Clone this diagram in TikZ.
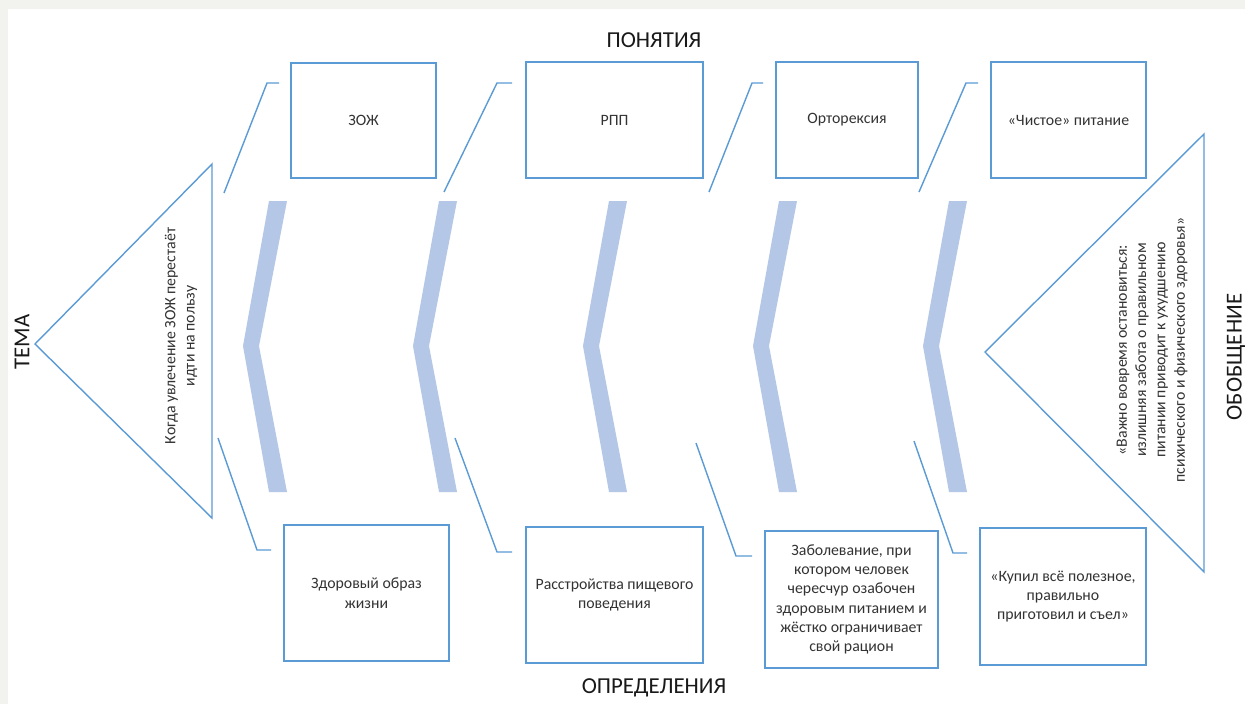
\documentclass[tikz,border=0pt]{standalone}
\usepackage{fontspec}
\setmainfont{Carlito}
\definecolor{lineblue}{HTML}{5B9BD5}
\definecolor{ribblue}{HTML}{B4C7E7}
\definecolor{pagegray}{HTML}{F2F3EE}
\tikzstyle{card} = [rectangle, draw=lineblue, line width=1.1pt, align=center, text=black!80, font=\fontsize{9}{11}\selectfont]
\tikzstyle{bone} = [draw=lineblue, line width=0.8pt]
\tikzstyle{rib} = [fill=ribblue]
\tikzstyle{heading} = [text=black!90, font=\fontsize{13}{15}\selectfont]
\tikzstyle{note} = [align=center, text=black!80, font=\fontsize{9}{11}\selectfont]

\begin{document}
\begin{tikzpicture}[x=0.02cm, y=-0.02cm]
    % Page
    \useasboundingbox (0,0) rectangle (1245,704);
    \fill [pagegray] (0,0) rectangle (1245,704);
    \fill [white] (8,9) rectangle (1245,704);

    % Head and tail
    \draw [bone] (35,344) -- (212,164) -- (212,518) -- cycle;
    \draw [bone] (985,352) -- (1204,134) -- (1204,572) -- cycle;
    \node (topic) at (181,336) [note, rotate=90] {Когда увлечение ЗОЖ перестаёт\\идти на пользу};
    \node (summary) at (1152,350) [note, rotate=90] {«Важно вовремя остановиться:\\излишняя забота о правильном\\питании приводит к ухудшению\\психического и физического здоровья»};
    \node (topiclabel) at (22,342) [heading, rotate=90] {ТЕМА};
    \node (summarylabel) at (1236,357) [heading, rotate=90] {ОБОБЩЕНИЕ};

    % Ribs
    \fill [rib] (269,201) -- (287,201) -- (259,346) -- (287,492) -- (269,492) -- (243,346) -- cycle;
    \fill [rib] (439,201) -- (457,201) -- (429,346) -- (457,492) -- (439,492) -- (413,346) -- cycle;
    \fill [rib] (609,201) -- (627,201) -- (599,346) -- (627,492) -- (609,492) -- (583,346) -- cycle;
    \fill [rib] (779,201) -- (797,201) -- (769,346) -- (797,492) -- (779,492) -- (753,346) -- cycle;
    \fill [rib] (949,201) -- (967,201) -- (939,346) -- (967,492) -- (949,492) -- (923,346) -- cycle;

    % Concepts
    \node (heading) at (654,40) [heading] {ПОНЯТИЯ};
    \node (zoj) at (363.5,120.5) [card, minimum width=2.9cm, minimum height=2.3cm] {ЗОЖ};
    \node (rpp) at (614.5,120) [card, minimum width=3.54cm, minimum height=2.32cm] {РПП};
    \node (orto) at (847,120) [card, minimum width=2.84cm, minimum height=2.32cm] {Орторексия};
    \node (clean) at (1068.5,120) [card, minimum width=3.1cm, minimum height=2.32cm] {«Чистое» питание};

    % Definitions
    \node (footing) at (654,688) [heading] {ОПРЕДЕЛЕНИЯ};
    \node (zojdef) at (366.5,593) [card, minimum width=3.3cm, minimum height=2.72cm] {Здоровый образ\\жизни};
    \node (rppdef) at (614.5,595) [card, minimum width=3.54cm, minimum height=2.72cm] {Расстройства пищевого\\поведения};
    \node (ortodef) at (851.5,599.5) [card, minimum width=3.46cm, minimum height=2.74cm] {Заболевание, при\\котором человек\\чересчур озабочен\\здоровым питанием и\\жёстко ограничивает\\свой рацион};
    \node (cleandef) at (1063,596.5) [card, minimum width=3.32cm, minimum height=2.74cm] {«Купил всё полезное,\\правильно\\приготовил и съел»};

    % Upper bones
    \draw [bone] (224,193) -- (267,83) -- (279,83);
    \draw [bone] (444,192) -- (497,83) -- (512,83);
    \draw [bone] (709,192) -- (752,83) -- (763,83);
    \draw [bone] (919,192) -- (966,83) -- (978,83);

    % Lower bones
    \draw [bone] (218,438) -- (257,550) -- (271,550);
    \draw [bone] (455,438) -- (497,552) -- (512,552);
    \draw [bone] (696,443) -- (736,556) -- (752,556);
    \draw [bone] (914,441) -- (953,553) -- (967,553);
\end{tikzpicture}
\end{document}
